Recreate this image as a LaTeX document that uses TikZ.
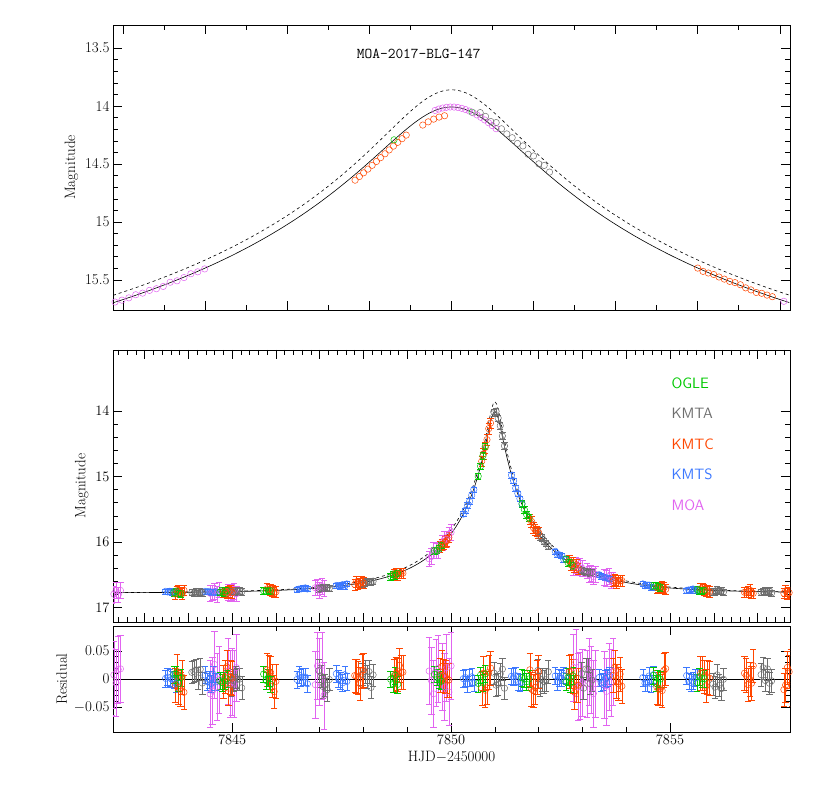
\documentclass[tikz,border=0pt]{standalone}
\usepackage{pgfplots}
\pgfplotsset{compat=1.18}
\definecolor{cO}{RGB}{0,200,0}
\definecolor{cA}{RGB}{110,110,110}
\definecolor{cC}{RGB}{255,70,0}
\definecolor{cS}{RGB}{60,120,255}
\definecolor{cM}{RGB}{225,100,240}
\tikzset{declare function={Au(\u)=(\u*\u+2)/(\u*sqrt(\u*\u+4));
    mg(\t)=16.78-2.5*log10(Au(sqrt(0.078^2+((\t-7851)/2.16)^2)));
    md(\t)=16.78-2.5*log10(Au(sqrt(0.068^2+((\t-7851)/2.3)^2)));}}
\pgfplotsset{
  myax/.style={scale only axis, width=677pt, xmin=7842.28, xmax=7857.74,
    y dir=reverse, tick align=inside, xtick pos=both, ytick pos=both,
    minor tick num=4, major tick length=9pt, minor tick length=5pt,
    tick style={black, line width=0.5pt}, axis line style={line width=0.6pt},
    ticklabel style={font=\fontsize{15}{15}\selectfont},
    label style={font=\fontsize{15}{15}\selectfont},
    /pgf/number format/1000 sep={},
    scaled ticks=false,
    clip=true},
  mk/.style={only marks, mark=o, mark size=3.2pt, mark options={line width=0.5pt}},
}
\begin{document}
\begin{tikzpicture}
\pgfmathsetseed{7}
\useasboundingbox (0,0) rectangle (830pt,799pt);
% top panel
\begin{axis}[myax, at={(113pt,489pt)}, anchor=south west, height=285pt,
  xmin=7850.175, xmax=7851.825, ymin=13.3, ymax=15.76,
  xtick={7850.2,7850.4,7850.6,7850.8,7851,7851.2,7851.4,7851.6,7851.8}, xticklabels={}, minor x tick num=1,
  ytick={13.5,14,14.5,15,15.5}, yticklabels={13.5,14,14.5,15,15.5}, ylabel={Magnitude}]
\addplot[black,domain=7850.175:7851.825,samples=200,line width=0.6pt] {mg(x)};
\addplot[black,dashed,domain=7850.175:7851.825,samples=200,line width=0.6pt] {md(x)};
\addplot[mk,cM,domain=7850.18:7850.40,samples=14] {mg(x)+0.01*rand};
\addplot[mk,cM,domain=7851.81:7851.83,samples=2] {mg(x)+0.01*rand};
\addplot[mk,cC,domain=7850.765:7850.88,samples=12] {mg(x)+0.05};
\addplot[mk,cC,domain=7850.93:7850.97,samples=4] {mg(x)+0.07};
\addplot[mk,cO,samples at={7850.86,7851.05}] {mg(x)};
\addplot[mk,cM,domain=7850.96:7851.10,samples=16] {mg(x)};
\addplot[mk,cA,domain=7851.07:7851.24,samples=14] {mg(x)-0.04+0.02*rand};
\addplot[mk,cC,domain=7851.6:7851.77,samples=14] {mg(x)+0.01*rand};
\node[font=\fontsize{15}{15}\selectfont\ttfamily] at (axis cs:7850.92,13.55) {MOA-2017-BLG-147};
\end{axis}
% middle panel
\begin{axis}[myax, at={(113pt,177pt)}, anchor=south west, height=272pt,
  ymin=13.07, ymax=17.22, xticklabels={}, minor x tick num=4,
  ytick={14,15,16,17}, minor y tick num=4, ylabel={Magnitude}]
\addplot[black,domain=7842.28:7857.74,samples=400,line width=0.6pt] {mg(x)};
\addplot[black,dashed,domain=7842.28:7857.74,samples=400,line width=0.6pt] {md(x)};
\pgfplotsinvokeforeach{7842.35,7844.6,7845.0,7847.0,7849.6,7849.9,7852.9,7853.2,7853.6}{
  \addplot[mk,cM,domain=#1-0.1:#1+0.1,samples=5,error bars/.cd,y dir=both,y fixed=0.12] {mg(x)+0.04*rand};}
\pgfplotsinvokeforeach{7843.6,7844.5,7846.6,7847.5,7850.4,7851.5,7852.5,7853.5,7854.5,7855.5}{
  \addplot[mk,cS,domain=#1-0.12:#1+0.12,samples=6,error bars/.cd,y dir=both,y fixed=0.04] {mg(x)+0.02*rand};}
\pgfplotsinvokeforeach{7844.2,7845.1,7847.1,7848.1,7851.1,7852.1,7853.1,7856.1,7857.2}{
  \addplot[mk,cA,domain=#1-0.12:#1+0.12,samples=6,error bars/.cd,y dir=both,y fixed=0.05] {mg(x)+0.02*rand};}
\pgfplotsinvokeforeach{7843.8,7844.9,7845.9,7847.9,7848.8,7849.85,7850.8,7851.9,7852.8,7853.8,7854.8,7855.8,7856.8,7857.7}{
  \addplot[mk,cC,domain=#1-0.1:#1+0.1,samples=6,error bars/.cd,y dir=both,y fixed=0.08] {mg(x)+0.03*rand};}
\pgfplotsinvokeforeach{7843.75,7844.8,7845.8,7848.7,7849.7,7850.7,7851.7,7852.7,7854.7,7855.7}{
  \addplot[mk,cO,domain=#1-0.08:#1+0.08,samples=4,error bars/.cd,y dir=both,y fixed=0.05] {mg(x)+0.02*rand};}
\end{axis}
\node[cO,font=\fontsize{15}{15}\selectfont\sffamily,anchor=west] at (668pt,416pt) {OGLE};
\node[cA,font=\fontsize{15}{15}\selectfont\sffamily,anchor=west] at (668pt,386pt) {KMTA};
\node[cC,font=\fontsize{15}{15}\selectfont\sffamily,anchor=west] at (668pt,355pt) {KMTC};
\node[cS,font=\fontsize{15}{15}\selectfont\sffamily,anchor=west] at (668pt,325pt) {KMTS};
\node[cM,font=\fontsize{15}{15}\selectfont\sffamily,anchor=west] at (668pt,294pt) {MOA};
% residual panel
\begin{axis}[myax, at={(113pt,67pt)}, anchor=south west, height=106pt, y dir=normal,
  ymin=-0.095, ymax=0.095, xtick={7845,7850,7855}, minor x tick num=4,
  ytick={-0.05,0,0.05}, yticklabels={$-$0.05,0,0.05}, minor y tick num=4,
  ylabel={Residual}, xlabel={HJD$-$2450000}]
\addplot[black,line width=0.6pt,domain=7842.28:7857.74,samples=2] {0};
\pgfplotsinvokeforeach{7842.35,7844.6,7845.0,7847.0,7849.6,7849.9,7852.9,7853.2,7853.6}{
  \addplot[mk,cM,domain=#1-0.1:#1+0.1,samples=5,error bars/.cd,y dir=both,y fixed=0.06] {0.03*rand};}
\pgfplotsinvokeforeach{7843.6,7844.5,7846.6,7847.5,7850.4,7851.5,7852.5,7853.5,7854.5,7855.5}{
  \addplot[mk,cS,domain=#1-0.12:#1+0.12,samples=6,error bars/.cd,y dir=both,y fixed=0.015] {0.01*rand};}
\pgfplotsinvokeforeach{7844.2,7845.1,7847.1,7848.1,7851.1,7852.1,7853.1,7856.1,7857.2}{
  \addplot[mk,cA,domain=#1-0.12:#1+0.12,samples=6,error bars/.cd,y dir=both,y fixed=0.02] {0.02*rand};}
\pgfplotsinvokeforeach{7843.8,7844.9,7845.9,7847.9,7848.8,7849.85,7850.8,7851.9,7852.8,7853.8,7854.8,7855.8,7856.8,7857.7}{
  \addplot[mk,cC,domain=#1-0.1:#1+0.1,samples=6,error bars/.cd,y dir=both,y fixed=0.03] {0.025*rand};}
\pgfplotsinvokeforeach{7843.75,7844.8,7845.8,7848.7,7849.7,7850.7,7851.7,7852.7,7854.7,7855.7}{
  \addplot[mk,cO,domain=#1-0.08:#1+0.08,samples=4,error bars/.cd,y dir=both,y fixed=0.015] {0.01*rand};}
\end{axis}
\end{tikzpicture}
\end{document}
